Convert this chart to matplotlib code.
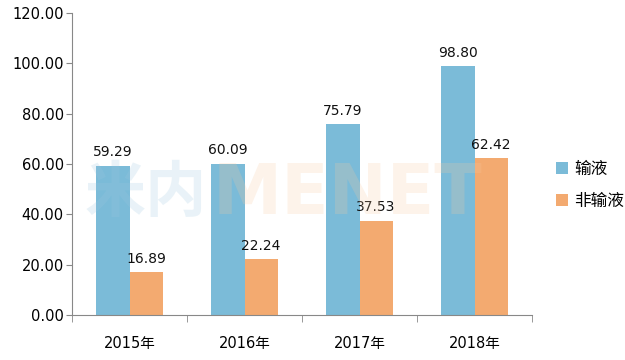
import numpy as np
import matplotlib.pyplot as plt

plt.rcParams['font.family'] = ['DejaVu Sans', 'Noto Sans CJK SC']

YEARS = ['2015年', '2016年', '2017年', '2018年']
INFUSION = [59.29, 60.09, 75.79, 98.80]
NON_INFUSION = [16.89, 22.24, 37.53, 62.42]
SERIES = ['输液', '非输液']

BLUE = '#7BBBD8'
ORANGE = '#F3AA70'

fig = plt.figure(figsize=(6.25, 3.6), dpi=100)
ax = fig.add_axes([0.1152, 0.125, 0.736, 0.839])

x = np.arange(len(YEARS))
w = 0.287
b1 = ax.bar(x - w / 2, INFUSION, w, color=BLUE, label=SERIES[0], zorder=2)
b2 = ax.bar(x + w / 2, NON_INFUSION, w, color=ORANGE, label=SERIES[1], zorder=2)

for bars, vals in ((b1, INFUSION), (b2, NON_INFUSION)):
    for bar, v in zip(bars, vals):
        ax.text(bar.get_x() + bar.get_width() / 2, v + 2.5, f'{v:.2f}',
                ha='center', va='bottom', fontsize=10, color='#111111', zorder=4)

# faint watermark
fig.text(0.135, 0.46, '米内', fontsize=44, color='#9EC8E0', alpha=0.22,
         family=['Noto Sans CJK SC'], fontweight='bold', va='center', zorder=5)
fig.text(0.34, 0.46, 'MENET', fontsize=50, color='#F7C9A0', alpha=0.22,
         fontweight='bold', va='center', zorder=5)

ax.set_xlim(-0.5, len(YEARS) - 0.5)
ax.set_ylim(0, 120)
ax.set_yticks(np.arange(0, 121, 20))
ax.set_yticklabels([f'{t:.2f}' for t in np.arange(0, 121, 20)], fontsize=10.5)
ax.set_xticks(x)
ax.set_xticklabels(YEARS, fontsize=10.5, family=['DejaVu Sans', 'Noto Sans CJK SC'])
ax.set_xticks(np.arange(-0.5, len(YEARS), 1), minor=True)
ax.tick_params(axis='x', which='major', length=0, pad=15)
ax.tick_params(axis='x', which='minor', length=5, color='#888888')
ax.tick_params(axis='y', length=4, color='#888888', pad=2)

for s in ('top', 'right'):
    ax.spines[s].set_visible(False)
for s in ('left', 'bottom'):
    ax.spines[s].set_color('#888888')

ax.legend(loc='center left', bbox_to_anchor=(1.02, 0.43), frameon=False,
          handlelength=0.7, handleheight=0.7, handletextpad=0.4, labelspacing=0.9,
          prop={'family': ['Noto Sans CJK SC'], 'size': 12})

fig.savefig('out.png', dpi=100)
